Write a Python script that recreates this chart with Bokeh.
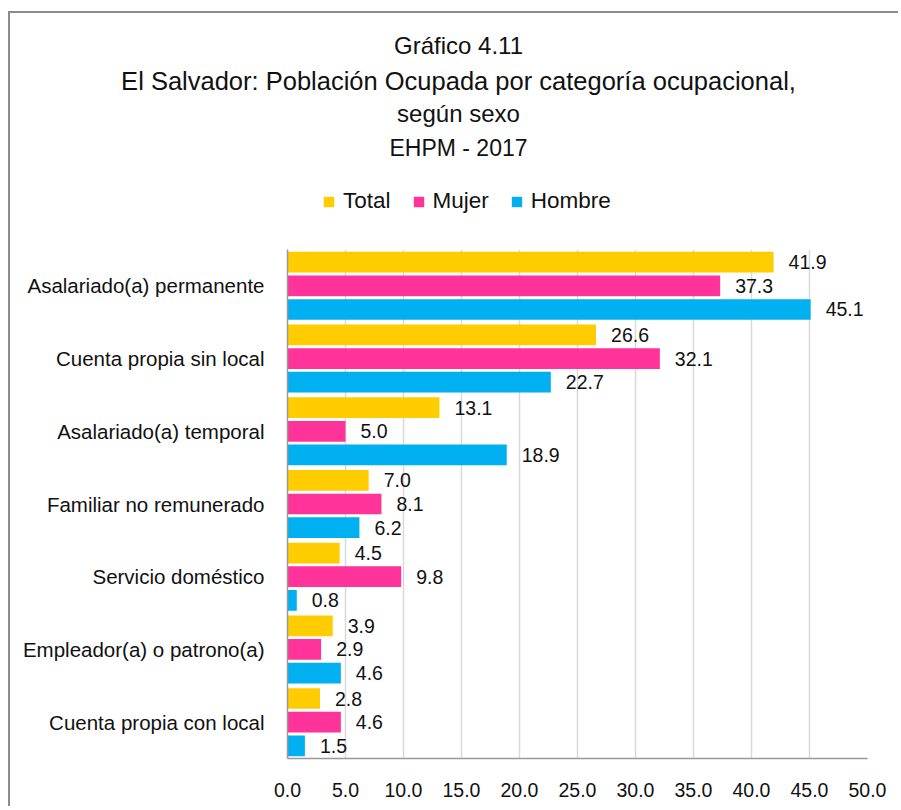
from bokeh.plotting import figure
from bokeh.models import (FactorRange, Range1d, FixedTicker, NumeralTickFormatter,
                          ColumnDataSource, Legend, LegendItem)
from bokeh.transform import dodge
from bokeh.core.properties import value
from bokeh.embed import file_html
from bokeh.resources import INLINE

# ---- data ----
categories = ["Asalariado(a) permanente", "Cuenta propia sin local", "Asalariado(a) temporal",
              "Familiar no remunerado", "Servicio doméstico", "Empleador(a) o patrono(a)",
              "Cuenta propia con local"]
total = [41.9, 26.6, 13.1, 7.0, 4.5, 3.9, 2.8]
mujer = [37.3, 32.1, 5.0, 8.1, 9.8, 2.9, 4.6]
hombre = [45.1, 22.7, 18.9, 6.2, 0.8, 4.6, 1.5]
series_names = ["Total", "Mujer", "Hombre"]
series_colors = ["#FFCC00", "#FF3399", "#00B0F0"]
x_ticks = [0, 5, 10, 15, 20, 25, 30, 35, 40, 45, 50]
title_lines = ["Gráfico 4.11",
               "El Salvador: Población Ocupada por categoría ocupacional,",
               "según sexo",
               "EHPM - 2017"]

FONT = "Liberation Sans"
TXT = "#111111"
FRAME = "2px solid #8c8c8c"
W = 890
TOP_H = 212
MAIN_H = 583

src = ColumnDataSource(dict(
    cat=categories, Total=total, Mujer=mujer, Hombre=hombre,
    lTotal=["%.1f" % v for v in total],
    lMujer=["%.1f" % v for v in mujer],
    lHombre=["%.1f" % v for v in hombre],
))
leg_src = ColumnDataSource(dict(name=series_names, color=series_colors))

# ---- header figure (titles + legend) ----
top = figure(width=W, height=TOP_H, x_range=Range1d(0, W), y_range=Range1d(TOP_H, 0),
             output_backend="svg", toolbar_location=None,
             x_axis_location=None, y_axis_location=None,
             min_border_left=0, min_border_right=0, min_border_top=0, min_border_bottom=0,
             styles={"border-left": FRAME, "border-top": FRAME,
                     "margin-left": "8px", "margin-top": "11px", "vertical-align": "top"})
top.outline_line_color = None
top.grid.grid_line_color = None

title_src = ColumnDataSource(dict(
    text=title_lines,
    y=[32, 67, 100, 134],
    size=["24px", "25.5px", "24px", "23px"],
))
top.text(x=448, y="y", text="text", source=title_src,
         text_align="center", text_baseline="middle",
         text_font=value(FONT), text_font_size="size", text_color=TXT)

# hidden swatch renderer in the header, used only for the legend
sw = top.rect(x="name", y="name", width=1, height=1, source=leg_src,
              fill_color="color", line_color=None, visible=False)
legend = Legend(items=[LegendItem(label=n, renderers=[sw], index=i)
                       for i, n in enumerate(series_names)],
                orientation="horizontal", location=(312, 11),
                glyph_width=13, glyph_height=13, label_standoff=8, spacing=21,
                label_text_font=FONT, label_text_font_size="22.5px", label_text_color=TXT,
                label_height=26, padding=0, margin=0,
                border_line_color=None, background_fill_alpha=0)
top.add_layout(legend, "center")

# ---- main chart ----
p = figure(width=W, height=MAIN_H,
           y_range=FactorRange(factors=list(reversed(categories)), range_padding=0),
           x_range=Range1d(0, 50),
           output_backend="svg", toolbar_location=None,
           min_border_left=277, min_border_right=33, min_border_top=26, min_border_bottom=48,
           styles={"border-left": FRAME, "margin-left": "8px", "vertical-align": "top"})
p.outline_line_color = None

offsets = [0.325, 0.0, -0.325]
for name, col, off in zip(series_names, series_colors, offsets):
    p.hbar(y=dodge("cat", off, range=p.y_range), right=name, left=0, height=0.285,
           source=src, fill_color=col, line_color=None)
    p.text(x=name, y=dodge("cat", off, range=p.y_range), text="l" + name, source=src,
           x_offset=15, text_align="left", text_baseline="middle",
           text_font=value(FONT), text_font_size="19.5px", text_color=TXT)

p.xaxis.ticker = FixedTicker(ticks=x_ticks)
p.xaxis.formatter = NumeralTickFormatter(format="0.0")
for ax in (p.xaxis, p.yaxis):
    ax.axis_line_color = "#999999"
    ax.axis_line_width = 1.5
    ax.major_tick_line_color = None
    ax.minor_tick_line_color = None
    ax.major_label_text_font = FONT
    ax.major_label_text_color = TXT
p.xaxis.major_label_text_font_size = "19.5px"
p.xaxis.major_label_standoff = 18
p.yaxis.major_label_text_font_size = "20.5px"
p.yaxis.major_label_standoff = 17

p.xgrid.grid_line_color = "#d9d9d9"
p.xgrid.grid_line_width = 1.5
p.ygrid.grid_line_color = None

open("out.html", "w").write(file_html([top, p], INLINE))
